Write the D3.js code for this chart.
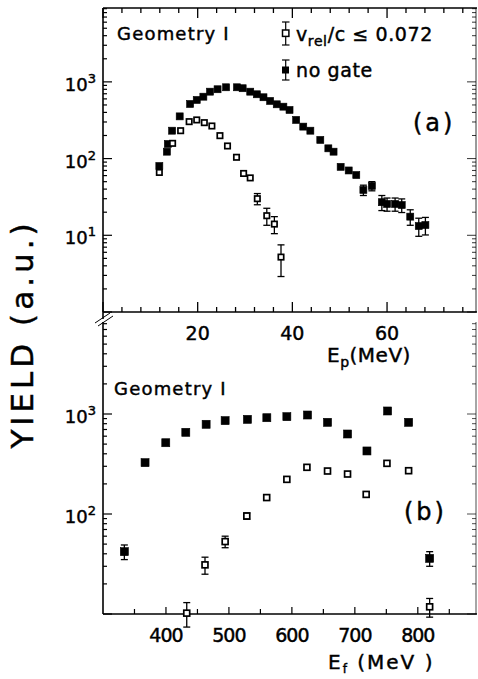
<!DOCTYPE html>
<html><head><meta charset="utf-8">
<script src="https://cdn.jsdelivr.net/npm/d3@7"></script>
<style>body{margin:0;background:#fff}svg{display:block}text{font-family:"DejaVu Sans",sans-serif;fill:#000;stroke:#000;stroke-width:0.45}</style>
</head><body><svg id="c" width="478" height="679"></svg>
<script>
// Panel (a): proton energy spectra
const epGate = [11.9,14.7,16.4,18.2,19.8,21.4,23.0,24.7,26.3,28.2,29.7,31.1,32.6,34.6,36.2,37.6];
const yGate  = [66,158,231,303,319,294,266,199,146,104,64,56,30,18,14,5.2];
const eGate  = [0,0,0,0,0,0,0,0,0,0,0,0,5,4.5,3.5,2.3];
const epAll = [11.9,13.5,13.7,14.6,16.2,18.4,19.8,21.2,22.6,24.2,26.0,28.3,29.5,31.1,32.5,33.9,35.3,36.7,38.1,39.4,40.8,42.3,43.8,45.9,47.6,48.7,50.2,51.9,53.5,55.0,56.8,58.9,60.0,61.7,63.1,64.9,66.7,68.1];
const yAll  = [80,123,155,231,355,515,581,641,745,801,850,850,826,745,689,630,564,510,475,430,319,261,231,175,136,123,78,70,61,39,44,27,25.6,25.6,24.8,17.5,13.2,13.6];
const eAll  = [0,0,0,0,0,0,0,0,0,0,0,0,0,0,0,0,0,0,0,0,0,0,0,0,0,0,0,0,0,6,6,6,5,5,5,4,3.5,3.5];
// Panel (b): fragment energy spectra
const efAll = [333.9,366.8,399.7,431.5,463.8,494,529.4,560.2,592,624.8,656.6,688.4,719.2,752,785.4,818.8];
const yfAll = [42,326,516,656,789,858,884,918,940,977,826,631,427,1072,826,36];
const efAllErr = [7,0,0,0,0,0,0,0,0,0,0,0,0,0,0,6];
const efGate = [433,462,494,528.4,560,592,623.9,656.6,688.4,718,751,785.4,818.8];
const yfGate = [10.2,31,53,95.5,146,222,293,269,251,157,321,271,11.8];
const efGateErr = [2.8,6,7,7,0,0,0,0,0,0,0,0,2.5];
const topXTicks = [20,40,60];
const botXTicks = [400,500,600,700,800];
const topYTicks = [1,2,3];   // exponents labelled
const botYTicks = [2,3];

const svg = d3.select("#c");
const L = 103, R = 477;
const xT = d3.scaleLinear([0,79],[L,R]);
const yT = d3.scaleLog([1, Math.pow(10,3.963)],[312,8]);
const xB = d3.scaleLinear([300,894],[L,R]);
const yB = d3.scaleLog([10, Math.pow(10,3.92)],[614,322]);
const ln = (x1,y1,x2,y2,w=1.3)=>svg.append("line").attr("x1",x1).attr("y1",y1).attr("x2",x2).attr("y2",y2).attr("stroke","#000").attr("stroke-width",w);

function logTicks(scale){
  const [a,b]=scale.domain(); const out=[];
  for(let e=Math.floor(Math.log10(a)); e<=Math.ceil(Math.log10(b)); e++)
    for(let m=1;m<10;m++){const v=m*Math.pow(10,e); if(v>=a*0.999 && v<=b) out.push({v,major:m===1});}
  return out;
}
// Top panel frame
ln(L,8,R,8,1.4); ln(L,8,L,316,1.6); ln(L,312,R,312,1.6); ln(R-1,8,R-1,312,0.8);
for(let v=0; v<=79; v+=4){
  const maj = v%20===0, len = maj?10:5;
  ln(xT(v),312,xT(v),312-len,1.3); ln(xT(v),8,xT(v),8+len,1.3);
}
logTicks(yT).forEach(t=>{const y=yT(t.v), len=t.major?9:4; ln(L,y,L+len,y,1.2); ln(R-1,y,R-1-len,y,0.8);});
topXTicks.forEach(v=>svg.append("text").attr("x",xT(v)).attr("y",340).attr("text-anchor","middle").attr("font-size",19).text(v));
function decLabel(x,y,e){
  const t=svg.append("text").attr("x",x).attr("y",y).attr("text-anchor","end").attr("font-size",18);
  t.append("tspan").text("10"); t.append("tspan").attr("dy",-8).attr("font-size",13).text(e);
}
topYTicks.forEach(e=>decLabel(96,yT(Math.pow(10,e))+9,e));
svg.append("text").attr("x",327).attr("y",362).attr("font-size",20).attr("letter-spacing",0.5)
  .call(t=>{t.append("tspan").text("E");t.append("tspan").attr("dy",5).attr("font-size",14).text("p");t.append("tspan").attr("dy",-5).text("(MeV)");});

// break marks
ln(L,316,L,319,1.6);
ln(95,323,110,313,1); ln(98,326,113,316,1);

// Bottom panel frame
ln(L,322,L,614,1.6); ln(L,614,R,614,1.6); ln(R-1,322,R-1,614,0.7);
for(let v=350; v<=894; v+=50){const maj=v%100===0; ln(xB(v),614,xB(v),614-(maj?7:5),1.2);}
logTicks(yB).forEach(t=>{const y=yB(t.v), len=t.major?9:4; ln(L,y,L+len,y,1.2); ln(R-1,y,R-1-len,y,0.7);});
botXTicks.forEach(v=>svg.append("text").attr("x",xB(v)).attr("y",642).attr("text-anchor","middle").attr("font-size",19).attr("letter-spacing",-1).text(v));
botYTicks.forEach(e=>decLabel(96,yB(Math.pow(10,e))+9,e));
svg.append("text").attr("x",328).attr("y",669).attr("font-size",20).attr("letter-spacing",2)
  .call(t=>{t.append("tspan").text("E");t.append("tspan").attr("dy",4).attr("font-size",12).text("f");t.append("tspan").attr("dy",-4).text(" (MeV )");});

// y label
svg.append("text").attr("transform","translate(33,334) rotate(-90)").attr("text-anchor","middle").attr("font-size",31).attr("letter-spacing",4).text("YIELD (a.u.)");

// markers
function drawSeries(xs,ys,es,xsc,ysc,filled,size){
  xs.forEach((xv,i)=>{
    const x=xsc(xs[i]), y=ysc(ys[i]), e=es[i];
    if(e>0){
      const y1=ysc(ys[i]+e), y2=ysc(Math.max(ys[i]-e, ysc.domain()[0]*0.5));
      ln(x,y1,x,y2,1.3); ln(x-3.5,y1,x+3.5,y1,1.3); ln(x-3.5,y2,x+3.5,y2,1.3);
    }
    const s=filled?size:size-1.6;
    svg.append("rect").attr("x",x-s/2).attr("y",y-s/2).attr("width",s).attr("height",s)
      .attr("fill",filled?"#000":"#fff").attr("stroke","#000").attr("stroke-width",filled?0.6:1.7);
  });
}
drawSeries(epAll,yAll,eAll,xT,yT,true,7);
drawSeries(epGate,yGate,eGate,xT,yT,false,7);
drawSeries(efAll,yfAll,efAllErr,xB,yB,true,8);
drawSeries(efGate,yfGate,efGateErr,xB,yB,false,7.5);

// legend panel (a)
svg.append("text").attr("x",117).attr("y",40).attr("font-size",18).attr("letter-spacing",1.2).text("Geometry I");
ln(285.7,22,285.7,45,1.2); ln(282,22,289.5,22,1.2); ln(282,45,289.5,45,1.2);
svg.append("rect").attr("x",282.5).attr("y",30).attr("width",6.4).attr("height",6.4).attr("fill","#fff").attr("stroke","#000").attr("stroke-width",1.5);
ln(285.7,60,285.7,80,1.2); ln(282,60,289.5,60,1.2); ln(282,80,289.5,80,1.2);
svg.append("rect").attr("x",282).attr("y",66.5).attr("width",7).attr("height",7).attr("fill","#000");
svg.append("text").attr("x",296).attr("y",41).attr("font-size",19).attr("letter-spacing",0.6)
  .call(t=>{t.append("tspan").text("v");t.append("tspan").attr("dy",5).attr("font-size",14).text("rel");t.append("tspan").attr("dy",-5).text("/c ≤ 0.072");});
svg.append("text").attr("x",296).attr("y",77).attr("font-size",19).attr("letter-spacing",0.6).text("no gate");
svg.append("text").attr("x",413).attr("y",131).attr("font-size",24).attr("letter-spacing",3).text("(a)");
// panel (b)
svg.append("text").attr("x",114).attr("y",395).attr("font-size",18).attr("letter-spacing",1.2).text("Geometry I");
svg.append("text").attr("x",404).attr("y",520).attr("font-size",24).attr("letter-spacing",3).text("(b)");
</script></body></html>
